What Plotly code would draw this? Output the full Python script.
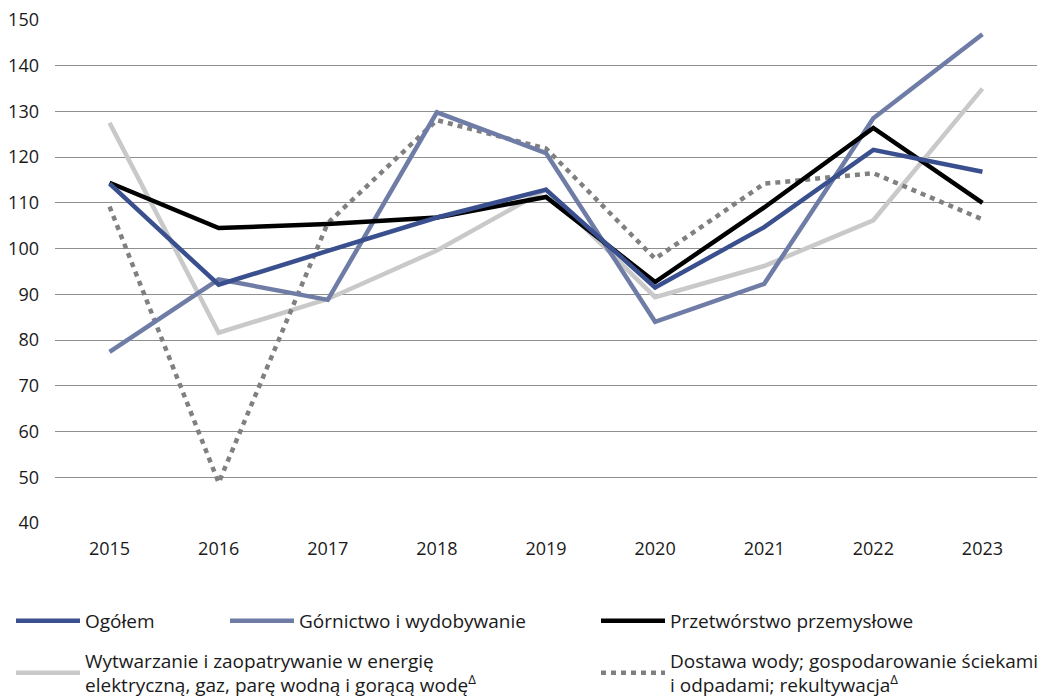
import plotly.graph_objects as go

years = [2015, 2016, 2017, 2018, 2019, 2020, 2021, 2022, 2023]
ogolem = [114.2, 92.1, 99.5, 106.8, 112.9, 91.5, 104.7, 121.6, 116.8]
gornictwo = [77.4, 93.3, 88.8, 129.8, 120.9, 84.0, 92.3, 128.5, 146.9]
przetworstwo = [114.4, 104.5, 105.4, 106.8, 111.3, 92.7, 109.0, 126.4, 110.0]
wytwarzanie = [127.5, 81.6, 89.0, 99.6, 112.9, 89.4, 96.2, 106.2, 135.0]
dostawa = [109.2, 48.8, 105.6, 128.1, 121.9, 97.8, 114.2, 116.5, 106.4]

names = [
    "Ogółem",
    "Górnictwo i wydobywanie",
    "Przetwórstwo przemysłowe",
    "Wytwarzanie i zaopatrywanie w energię<br>elektryczną, gaz, parę wodną i gorącą wodę<sup>Δ</sup>",
    "Dostawa wody; gospodarowanie ściekami<br>i odpadami; rekultywacja<sup>Δ</sup>",
]
series = [ogolem, gornictwo, przetworstwo, wytwarzanie, dostawa]
colors = ["#3A4F8E", "#6F7CA6", "#000000", "#C9C9C9", "#808080"]
dashes = ["solid", "solid", "solid", "solid", "5px,5px"]
order = [3, 4, 1, 2, 0]  # drawing order (bottom to top)

W, H = 1046, 699
FONT = "Open Sans"
# legend box left / item-centre positions in figure pixels
legend_pos = [(3, 613), (217, 613), (588, 613), (3, 665), (588, 665)]

fig = go.Figure()
for i in order:
    lg = "legend" if i == 0 else f"legend{i+1}"
    fig.add_trace(go.Scatter(
        x=years, y=series[i], name=names[i], mode="lines",
        line=dict(color=colors[i], width=4.5, dash=dashes[i]),
        legend=lg, hoverinfo="skip",
    ))

layout_legends = {}
for i, (px, py) in enumerate(legend_pos):
    key = "legend" if i == 0 else f"legend{i+1}"
    layout_legends[key] = dict(
        xref="container", yref="container",
        x=px / W, y=1 - py / H, xanchor="left", yanchor="middle",
        orientation="h", itemwidth=64, bgcolor="rgba(0,0,0,0)",
        font=dict(family=FONT, size=19, color="#1a1a1a"),
        tracegroupgap=0, itemclick=False, valign="middle",
    )

fig.update_layout(
    width=W, height=H,
    margin=dict(l=47, r=17, t=12, b=184, autoexpand=False),
    plot_bgcolor="white", paper_bgcolor="white",
    font=dict(family=FONT, size=18, color="#1a1a1a"),
    showlegend=True,
    xaxis=dict(
        range=[2014.5, 2023.5], tickmode="array", tickvals=years,
        ticktext=[str(y) for y in years], showgrid=False, zeroline=False,
        showline=False, ticks="", ticklabelstandoff=13,
        ticklabeloverflow="allow",
        tickfont=dict(family=FONT, size=18, color="#1a1a1a"),
    ),
    yaxis=dict(
        range=[40, 150], tickmode="linear", tick0=40, dtick=10,
        showgrid=True, gridcolor="#8f8f8f", gridwidth=1, zeroline=False,
        showline=False, ticks="", ticklabelstandoff=15,
        ticklabeloverflow="allow",
        tickfont=dict(family=FONT, size=18, color="#1a1a1a"),
    ),
    **layout_legends,
)

fig.write_html("out.html")
